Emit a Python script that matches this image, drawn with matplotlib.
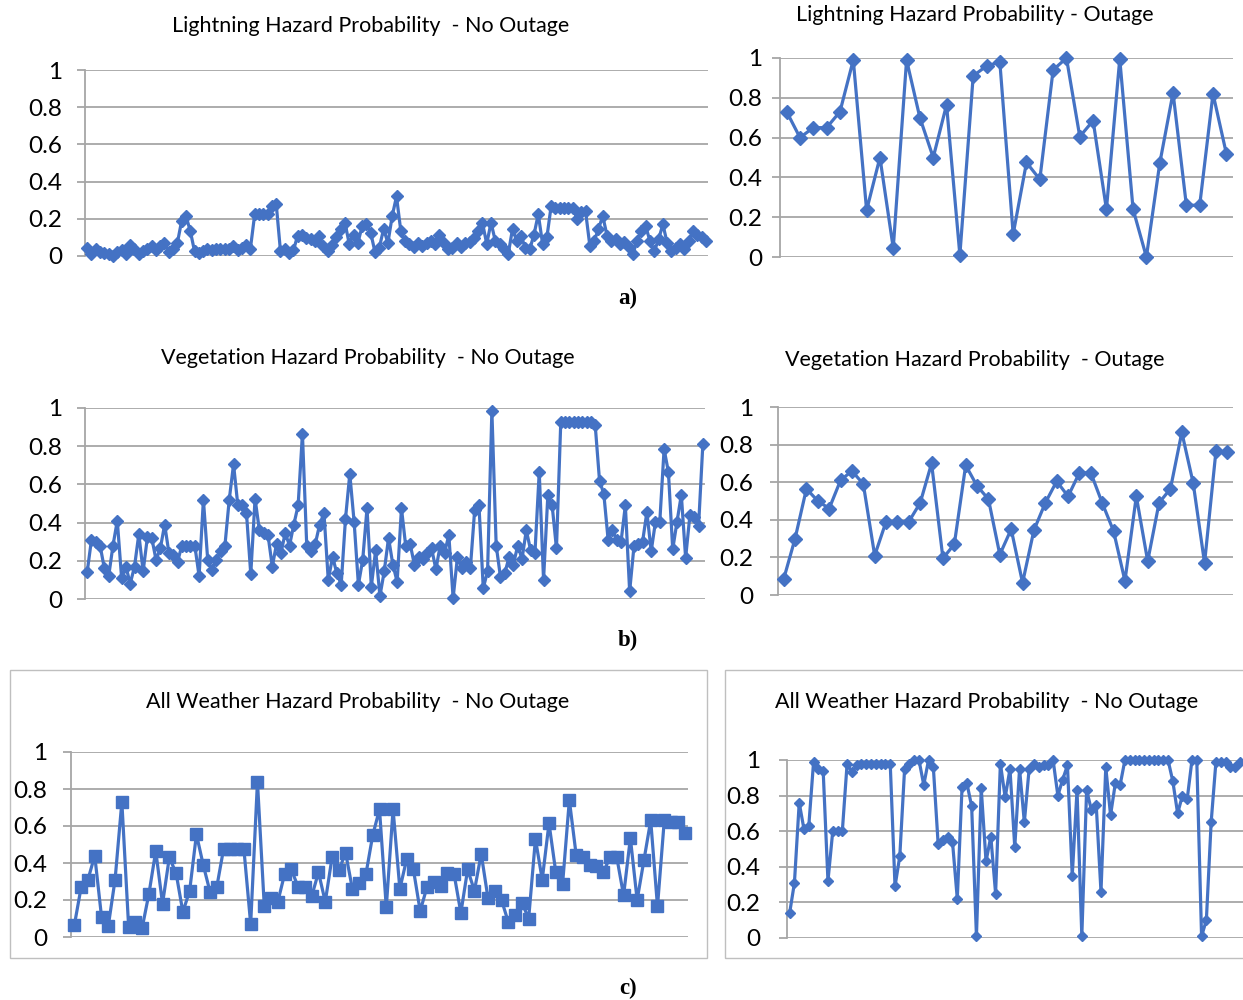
import numpy as np
import matplotlib.pyplot as plt
from matplotlib.patches import Rectangle

# data
a_left = [0.045, 0.01, 0.035, 0.02, 0.015, 0.01, 0.0, 0.02, 0.03, 0.01, 0.06, 0.035, 0.01, 0.025,
          0.035, 0.055, 0.03, 0.055, 0.07, 0.02, 0.04, 0.07, 0.19, 0.215, 0.135, 0.025, 0.015, 0.025,
          0.035, 0.03, 0.035, 0.04, 0.035, 0.04, 0.055, 0.03, 0.045, 0.06, 0.04, 0.225, 0.225, 0.225,
          0.225, 0.27, 0.28, 0.025, 0.035, 0.015, 0.03, 0.11, 0.115, 0.095, 0.09, 0.08, 0.105, 0.055,
          0.025, 0.06, 0.10, 0.145, 0.18, 0.065, 0.115, 0.07, 0.16, 0.17, 0.125, 0.02, 0.045, 0.145,
          0.07, 0.215, 0.32, 0.135, 0.08, 0.065, 0.05, 0.07, 0.055, 0.07, 0.08, 0.065, 0.115, 0.07,
          0.04, 0.045, 0.07, 0.05, 0.07, 0.075, 0.095, 0.135, 0.18, 0.065, 0.18, 0.08, 0.065, 0.035,
          0.01, 0.145, 0.08, 0.105, 0.045, 0.035, 0.115, 0.225, 0.065, 0.10, 0.27, 0.26, 0.26, 0.26,
          0.26, 0.26, 0.20, 0.235, 0.24, 0.055, 0.08, 0.145, 0.215, 0.11, 0.08, 0.09, 0.065, 0.075,
          0.05, 0.01, 0.08, 0.135, 0.16, 0.08, 0.025, 0.09, 0.17, 0.07, 0.025, 0.045, 0.065, 0.035,
          0.08, 0.135, 0.115, 0.10, 0.08]

a_right = [0.73, 0.60, 0.65, 0.65, 0.73, 0.99, 0.235, 0.50, 0.045, 0.99, 0.70, 0.50, 0.765, 0.01,
           0.91, 0.96, 0.98, 0.115, 0.475, 0.39, 0.94, 1.0, 0.605, 0.685, 0.24, 0.995, 0.24, 0.0,
           0.47, 0.825, 0.26, 0.26, 0.82, 0.52]

b_left = [0.14, 0.31, 0.30, 0.28, 0.16, 0.12, 0.28, 0.41, 0.11, 0.17, 0.08, 0.17, 0.34, 0.145,
          0.325, 0.32, 0.205, 0.265, 0.39, 0.24, 0.23, 0.195, 0.28, 0.28, 0.28, 0.28, 0.12, 0.52,
          0.205, 0.15, 0.205, 0.25, 0.28, 0.52, 0.705, 0.49, 0.49, 0.45, 0.13, 0.525, 0.36, 0.345,
          0.335, 0.17, 0.29, 0.24, 0.345, 0.28, 0.39, 0.49, 0.865, 0.28, 0.25, 0.29, 0.39, 0.45,
          0.10, 0.22, 0.135, 0.075, 0.42, 0.655, 0.405, 0.075, 0.205, 0.475, 0.065, 0.255, 0.015,
          0.145, 0.32, 0.18, 0.09, 0.475, 0.275, 0.29, 0.18, 0.22, 0.21, 0.24, 0.265, 0.155, 0.28,
          0.24, 0.335, 0.005, 0.22, 0.16, 0.195, 0.16, 0.465, 0.49, 0.057, 0.145, 0.985, 0.28,
          0.115, 0.135, 0.22, 0.18, 0.28, 0.21, 0.36, 0.255, 0.24, 0.665, 0.10, 0.545, 0.49, 0.265,
          0.925, 0.925, 0.925, 0.925, 0.925, 0.925, 0.925, 0.925, 0.91, 0.62, 0.55, 0.31, 0.36,
          0.31, 0.30, 0.49, 0.04, 0.275, 0.29, 0.30, 0.455, 0.25, 0.405, 0.405, 0.785, 0.665, 0.26,
          0.405, 0.545, 0.215, 0.44, 0.43, 0.38, 0.81]

b_right = [0.085, 0.30, 0.565, 0.50, 0.46, 0.61, 0.66, 0.59, 0.21, 0.39, 0.39, 0.39, 0.49, 0.70,
           0.195, 0.27, 0.69, 0.58, 0.51, 0.215, 0.35, 0.065, 0.345, 0.49, 0.605, 0.525, 0.65,
           0.65, 0.49, 0.34, 0.075, 0.525, 0.18, 0.49, 0.565, 0.865, 0.595, 0.17, 0.765, 0.76]

c_left = [0.065, 0.27, 0.31, 0.44, 0.11, 0.06, 0.31, 0.73, 0.055, 0.08, 0.05, 0.235, 0.465, 0.18,
          0.43, 0.345, 0.135, 0.25, 0.555, 0.39, 0.245, 0.27, 0.475, 0.475, 0.475, 0.475, 0.07,
          0.84, 0.17, 0.21, 0.19, 0.34, 0.365, 0.27, 0.27, 0.22, 0.35, 0.19, 0.43, 0.36, 0.455,
          0.26, 0.29, 0.34, 0.55, 0.69, 0.16, 0.69, 0.26, 0.42, 0.365, 0.14, 0.27, 0.30, 0.275,
          0.345, 0.34, 0.13, 0.365, 0.25, 0.45, 0.21, 0.25, 0.20, 0.08, 0.12, 0.185, 0.10, 0.53,
          0.31, 0.615, 0.35, 0.285, 0.74, 0.445, 0.43, 0.39, 0.385, 0.35, 0.43, 0.43, 0.225, 0.535,
          0.20, 0.415, 0.63, 0.165, 0.63, 0.62, 0.62, 0.56]

c_right = [0.14, 0.31, 0.76, 0.61, 0.63, 0.99, 0.95, 0.94, 0.32, 0.60, 0.60, 0.60, 0.98, 0.93,
           0.97, 0.98, 0.98, 0.98, 0.98, 0.98, 0.98, 0.98, 0.29, 0.46, 0.95, 0.98, 1.0, 1.0, 0.86,
           1.0, 0.96, 0.53, 0.55, 0.57, 0.54, 0.22, 0.85, 0.87, 0.74, 0.01, 0.84, 0.43, 0.57, 0.25,
           0.98, 0.79, 0.95, 0.51, 0.95, 0.65, 0.95, 0.98, 0.96, 0.97, 0.97, 1.0, 0.80, 0.89, 0.97,
           0.35, 0.83, 0.01, 0.83, 0.72, 0.75, 0.26, 0.96, 0.69, 0.87, 0.86, 1.0, 1.0, 1.0, 1.0,
           1.0, 1.0, 1.0, 1.0, 1.0, 1.0, 0.88, 0.70, 0.80, 0.78, 1.0, 1.0, 0.01, 0.10, 0.65, 0.99,
           0.99, 0.99, 0.96, 0.96, 0.99]

y_ticks = [0, 0.2, 0.4, 0.6, 0.8, 1]
y_labels = ['0', '0.2', '0.4', '0.6', '0.8', '1']

titles = ['Lightning Hazard Probability  - No Outage',
          'Lightning Hazard Probability - Outage',
          'Vegetation Hazard Probability  - No Outage',
          'Vegetation Hazard Probability  - Outage',
          'All Weather Hazard Probability  - No Outage',
          'All Weather Hazard Probability  - No Outage']

plt.rcParams['font.family'] = ['Lato', 'DejaVu Sans']

BLUE = '#4472C4'
GRID = '#A6A6A6'
W, H = 1243, 1000

fig = plt.figure(figsize=(12.43, 10), dpi=100)


def px_axes(x0, x1, ytop, ybot):
    # axes from pixel box of the reference
    return fig.add_axes([x0 / W, 1 - ybot / H, (x1 - x0) / W, (ybot - ytop) / H])


def panel(ax, vals, marker, ms, pad, xpad=(0.5, 0.5)):
    x = np.arange(1, len(vals) + 1)
    ax.plot(x, vals, color=BLUE, lw=2.3, marker=marker, ms=ms, mfc=BLUE, mec=BLUE,
            clip_on=False, zorder=3)
    ax.set_xlim(1 - xpad[0], len(vals) + xpad[1])
    ax.set_ylim(0, 1)
    ax.set_yticks(y_ticks)
    ax.set_yticklabels(y_labels)
    ax.set_xticks([])
    ax.yaxis.grid(True, color=GRID, lw=1.3)
    ax.set_axisbelow(True)
    for s in ['top', 'right', 'bottom']:
        ax.spines[s].set_visible(False)
    ax.spines['left'].set_color(GRID)
    ax.spines['left'].set_linewidth(1.3)
    ax.tick_params(axis='y', length=6, width=1.3, color=GRID, pad=pad, labelsize=17.5,
                   labelcolor='black')
    ax.set_facecolor('none')


# boxes round the bottom charts
fig.patches.append(Rectangle((10 / W, 1 - 958 / H), 697 / W, 288 / H, transform=fig.transFigure,
                             fill=False, ec='#BFBFBF', lw=1.0))
fig.patches.append(Rectangle((725 / W, 1 - 958 / H), 520 / W, 288 / H, transform=fig.transFigure,
                             fill=False, ec='#BFBFBF', lw=1.0))

ax1 = px_axes(85, 708, 70, 256)
panel(ax1, a_left, 'D', 6, 10.5)
ax2 = px_axes(780, 1233, 58, 257)
panel(ax2, a_right, 'D', 7, 7)
ax3 = px_axes(85, 705, 408, 599)
panel(ax3, b_left, 'D', 6, 10.5)
ax4 = px_axes(778, 1233, 407, 595)
panel(ax4, b_right, 'D', 7, 12)
ax5 = px_axes(71, 688, 752, 937)
panel(ax5, c_left, 's', 9, 11)
ax6 = px_axes(787, 1243, 760, 938)
panel(ax6, c_right, 'D', 5.5, 13, xpad=(0.55, 0.65))

# titles
title_pos = [(371, 26), (975, 15), (368, 358), (975, 360), (358, 702), (987, 702)]
for t, (tx, ty) in zip(titles, title_pos):
    fig.text(tx / W, 1 - ty / H, t, ha='center', va='center', fontsize=15.5, color='black')

# sub-figure labels
for lab, ly in [('a)', 298), ('b)', 640), ('c)', 988)]:
    fig.text(628 / W, 1 - ly / H, lab, ha='center', va='center', fontsize=16.5,
             fontweight='bold', family='Liberation Serif')

plt.savefig('out.png', dpi=100)
